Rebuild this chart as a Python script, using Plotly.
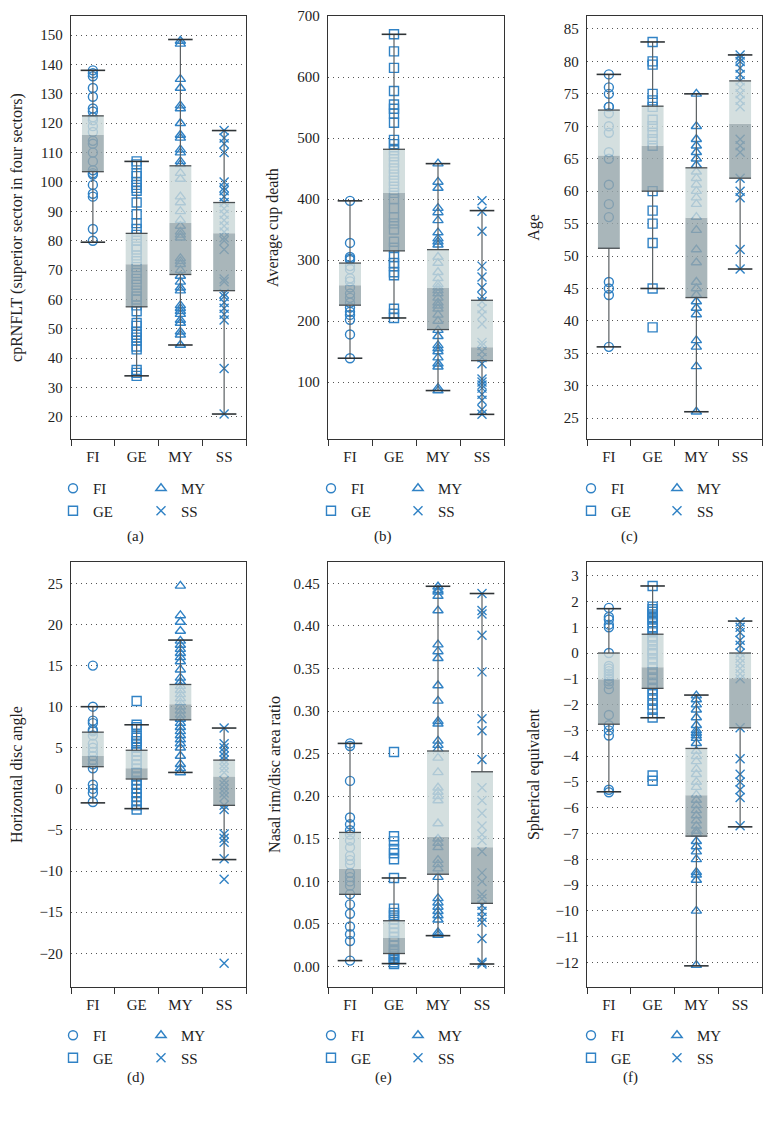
import plotly.graph_objects as go

W, H = 773, 1122
OFF = 8                     # default page margin of the html body
FW, FH = W - 2 * OFF, H - 2 * OFF
GROUPS = ["FI", "GE", "MY", "SS"]
SYMBOLS = ["circle-open", "square-open", "triangle-up-open", "x-thin-open"]
BLUE = "rgb(48,130,197)"

# ---------------- (a) cpRNFLT ----------------
A_FI = [138, 137, 136, 132, 129, 125, 124, 122, 121, 119, 117, 114, 113, 110, 107, 104, 103, 102.5, 99, 96, 95, 84, 80]
A_GE = [107, 106, 103, 102, 100, 99, 98, 97, 93, 89, 86, 84, 82, 80, 78, 77, 75, 73, 71, 69, 67, 65, 63, 61, 60, 58,
        56, 52, 51, 49, 48, 47, 46, 44, 43, 36, 35, 34]
A_MY = [148, 147, 135, 132, 126, 125, 120, 116, 115, 111, 110, 107, 106, 103, 101, 95, 93, 90, 87, 85, 83, 82, 81, 74,
        73, 72, 70, 68, 66, 64, 63, 58, 57, 56, 55, 53, 52, 49, 48, 44.5]
A_SS = [117.5, 115, 113, 110, 100, 98, 97, 95, 93, 91, 89, 87, 85, 83, 81, 80, 77, 67, 66, 62, 61, 59, 57, 55, 53, 36.5, 21]
A_LOW = [79.5, 34, 44.5, 21]
A_Q1 = [103.5, 57.5, 68.5, 63]
A_MED = [116, 72, 86, 82.5]
A_Q3 = [122.5, 82.5, 105.5, 93]
A_HIGH = [138, 107, 148.5, 117.5]

# ---------------- (b) Average cup death ----------------
B_FI = [397, 328, 305, 302, 300, 290, 285, 270, 265, 255, 245, 238, 230, 222, 215, 210, 202, 178, 139]
B_GE = [670, 642, 615, 577, 555, 548, 540, 525, 497, 490, 480, 470, 460, 450, 440, 430, 420, 410, 400, 385, 370, 360,
        350, 330, 320, 305, 295, 290, 280, 275, 220, 212, 205]
B_MY = [458, 428, 418, 385, 378, 365, 345, 335, 330, 325, 305, 295, 280, 270, 260, 255, 250, 245, 238, 230, 225, 220,
        210, 200, 185, 175, 160, 155, 150, 140, 130, 125, 90, 86]
B_SS = [397, 380, 347, 290, 272, 255, 240, 232, 220, 210, 195, 165, 160, 150, 140, 130, 105, 100, 95, 90, 80, 70, 55, 47]
B_LOW = [139, 205, 86, 47]
B_Q1 = [226, 315, 186, 135]
B_MED = [258.5, 410, 254, 157]
B_Q3 = [295, 481.5, 317, 234]
B_HIGH = [397, 670, 458, 381]

# ---------------- (c) Age ----------------
C_FI = [78, 76, 75, 73, 73, 72, 70, 69, 66, 65, 61, 58, 56, 46, 45, 44, 36]
C_GE = [83, 80, 79.5, 75, 74, 73, 71, 70, 69, 68, 67, 60, 57, 55, 52, 45, 39]
C_MY = [75, 70, 68, 67, 66, 65, 64, 63, 62, 61, 60, 59, 58, 56, 54, 51, 49, 46, 45, 44, 43, 42, 41, 37, 36, 33, 26]
C_SS = [81, 80.5, 80, 79, 78, 77, 76, 75, 74, 73, 68, 67, 66, 62, 60, 59, 51, 48]
C_LOW = [36, 45, 26, 48]
C_Q1 = [51.2, 60, 43.6, 62]
C_MED = [65.5, 67, 55.9, 70.4]
C_Q3 = [72.5, 73.1, 63.6, 77]
C_HIGH = [78, 83, 75, 81]

# ---------------- (d) Horizontal disc angle ----------------
D_FI = [15, 10, 8.3, 8, 7.2, 7, 6.5, 5.5, 5, 4.5, 4, 3.5, 3, 2.5, 0.5, 0, -0.5, -1.6]
D_GE = [10.7, 7.8, 7.5, 6.5, 6.2, 5.8, 5.5, 5, 4.5, 4, 3.5, 3, 2.5, 2, 1.5, 1, 0.5, 0, -0.5, -1, -1.5, -2, -2.5]
D_MY = [24.7, 21.1, 20.3, 19.2, 18, 17.5, 17, 16.5, 16, 15.5, 14.5, 13.5, 13, 12.5, 12, 11.5, 11, 10.5, 10, 9.5, 9,
        8.5, 8, 7.5, 7, 6.5, 6, 5.5, 5, 4, 3, 2.5, 2]
D_SS = [7.4, 5.5, 5, 4.5, 4, 3.5, 3, 2.5, 2, 1, 0.5, 0, -0.5, -1, -2, -2.5, -5.5, -6, -6.5, -8.5, -11, -21.2]
D_LOW = [-1.7, -2.4, 2.0, -8.6]
D_Q1 = [2.7, 1.2, 8.4, -2.0]
D_MED = [4.0, 2.5, 10.3, 1.5]
D_Q3 = [6.9, 4.7, 12.7, 3.5]
D_HIGH = [10, 7.8, 18.1, 7.4]

# ---------------- (e) Nasal rim/disc area ratio ----------------
E_FI = [0.262, 0.259, 0.218, 0.175, 0.167, 0.16, 0.155, 0.148, 0.14, 0.13, 0.125, 0.12, 0.11, 0.105, 0.1, 0.095,
        0.085, 0.073, 0.062, 0.047, 0.038, 0.03, 0.007]
E_GE = [0.252, 0.153, 0.147, 0.138, 0.133, 0.126, 0.104, 0.068, 0.063, 0.06, 0.055, 0.05, 0.045, 0.04, 0.035, 0.03,
        0.025, 0.02, 0.018, 0.015, 0.012, 0.01, 0.008, 0.005, 0.003]
E_MY = [0.446, 0.442, 0.44, 0.435, 0.418, 0.378, 0.37, 0.362, 0.33, 0.312, 0.288, 0.285, 0.265, 0.26, 0.255, 0.245,
        0.228, 0.21, 0.205, 0.2, 0.195, 0.168, 0.15, 0.145, 0.14, 0.125, 0.12, 0.115, 0.105, 0.08, 0.075, 0.07, 0.065,
        0.06, 0.055, 0.04, 0.037]
E_SS = [0.438, 0.418, 0.414, 0.389, 0.346, 0.291, 0.277, 0.243, 0.21, 0.195, 0.18, 0.165, 0.155, 0.148, 0.135, 0.11,
        0.1, 0.085, 0.08, 0.072, 0.065, 0.058, 0.052, 0.033, 0.005, 0.003]
E_LOW = [0.007, 0.0035, 0.0363, 0.003]
E_Q1 = [0.0848, 0.0153, 0.1084, 0.0742]
E_MED = [0.1147, 0.0334, 0.1524, 0.14]
E_Q3 = [0.1575, 0.0538, 0.2531, 0.2287]
E_HIGH = [0.262, 0.104, 0.4465, 0.438]

# ---------------- (f) Spherical equivalent ----------------
F_FI = [1.75, 1.4, 1.3, 1.1, 1.0, 0, -0.5, -0.6, -0.7, -0.8, -0.9, -1.0, -1.1, -1.2, -1.4, -2.4, -2.8, -3.0, -3.2,
        -5.3, -5.4]
F_GE = [2.6, 1.8, 1.7, 1.6, 1.5, 1.4, 1.3, 1.2, 1.0, 0.8, 0.6, 0.5, 0.3, 0.1, 0, -0.2, -0.4, -0.6, -0.8, -1.0, -1.2,
        -1.4, -1.6, -1.8, -2.0, -2.2, -2.5, -4.75, -4.95]
F_MY = [-1.65, -1.8, -2.0, -2.2, -2.5, -2.8, -3.0, -3.1, -3.2, -3.3, -3.5, -3.8, -4.0, -4.2, -4.5, -4.7, -5.0, -5.2,
        -5.5, -5.7, -5.9, -6.1, -6.3, -6.5, -6.7, -6.9, -7.0, -7.3, -7.5, -7.7, -8.0, -8.5, -8.6, -8.8, -10.0, -12.1]
F_SS = [1.2, 1.0, 0.8, 0.5, 0.3, 0, -0.2, -0.4, -0.6, -0.8, -1.0, -2.9, -4.1, -4.7, -5.0, -5.3, -5.6, -6.7]
F_LOW = [-5.38, -2.51, -12.13, -6.74]
F_Q1 = [-2.76, -1.37, -7.1, -2.9]
F_MED = [-1.02, -0.55, -5.51, -0.98]
F_Q3 = [0.0, 0.73, -3.7, 0.0]
F_HIGH = [1.72, 2.6, -1.63, 1.24]

Y_TITLES = ["cpRNFLT (superior sector in four sectors)", "Average cup death", "Age",
            "Horizontal disc angle", "Nasal rim/disc area ratio", "Spherical equivalent"]
PANEL_LABELS = ["(a)", "(b)", "(c)", "(d)", "(e)", "(f)"]

PANELS = [
    dict(pts=[A_FI, A_GE, A_MY, A_SS], stats=[A_LOW, A_Q1, A_MED, A_Q3, A_HIGH],
         yr=[12.5, 156.5], t0=20, dt=10, fmt=None),
    dict(pts=[B_FI, B_GE, B_MY, B_SS], stats=[B_LOW, B_Q1, B_MED, B_Q3, B_HIGH],
         yr=[6.6, 700], t0=100, dt=100, fmt=None),
    dict(pts=[C_FI, C_GE, C_MY, C_SS], stats=[C_LOW, C_Q1, C_MED, C_Q3, C_HIGH],
         yr=[21.8, 87], t0=25, dt=5, fmt=None),
    dict(pts=[D_FI, D_GE, D_MY, D_SS], stats=[D_LOW, D_Q1, D_MED, D_Q3, D_HIGH],
         yr=[-24.1, 27.6], t0=-20, dt=5, fmt=None),
    dict(pts=[E_FI, E_GE, E_MY, E_SS], stats=[E_LOW, E_Q1, E_MED, E_Q3, E_HIGH],
         yr=[-0.024, 0.475], t0=0, dt=0.05, fmt=".2f"),
    dict(pts=[F_FI, F_GE, F_MY, F_SS], stats=[F_LOW, F_Q1, F_MED, F_Q3, F_HIGH],
         yr=[-12.95, 3.53], t0=-12, dt=1, fmt=None),
]

# layout geometry (page pixels)
COL_X = [(71, 246), (328, 504), (587, 762)]
ROW_Y = [(16, 439), (562, 987)]
LABEL_X = [125, 383, 640]
LABEL_Y = [536, 1088]
LEG_X = [(74, 162), (332, 419), (592, 678)]
LEG_Y = [485, 1032]
TITLE_STANDOFF = [22, 14, 20, 16, 8, 11]

BW = 0.25   # half box width
CW = 0.28   # half cap width
FONT = "Liberation Serif"


def px(p):
    return (p - OFF) / FW


def py(p):
    return 1 - (p - OFF) / FH


fig = go.Figure()


def ax_name(k, kind):
    return kind if k == 0 else f"{kind}{k + 1}"


def leg_name(n):
    return "legend" if n == 1 else f"legend{n}"


for k, p in enumerate(PANELS):
    xa, ya = ax_name(k, "x"), ax_name(k, "y")
    low, q1, med, q3, high = p["stats"]
    # individual points
    for gi, g in enumerate(GROUPS):
        pts = p["pts"][gi]
        lg = leg_name(2 * k + 1 + (gi // 2))
        fig.add_trace(go.Scatter(
            x=[gi] * len(pts), y=pts, mode="markers", name=g,
            marker=dict(symbol=SYMBOLS[gi], size=9, color=BLUE, line=dict(width=1.4, color=BLUE)),
            xaxis=xa, yaxis=ya, legend=lg, legendgroup=f"{k}{g}", hoverinfo="y"))

    def rects(lo, hi):
        xs, ys = [], []
        for i in range(4):
            xs += [i - BW, i + BW, i + BW, i - BW, i - BW, None]
            ys += [lo[i], lo[i], hi[i], hi[i], lo[i], None]
        return xs, ys

    for lo, hi, col in [(q1, med, "rgba(150,166,171,0.82)"), (med, q3, "rgba(202,216,216,0.82)")]:
        xs, ys = rects(lo, hi)
        fig.add_trace(go.Scatter(x=xs, y=ys, mode="none", fill="toself", fillcolor=col,
                                 xaxis=xa, yaxis=ya, showlegend=False, hoverinfo="skip"))
    # whiskers
    wx, wy = [], []
    for i in range(4):
        wx += [i, i, None, i, i, None]
        wy += [low[i], q1[i], None, q3[i], high[i], None]
    fig.add_trace(go.Scatter(x=wx, y=wy, mode="lines", line=dict(color="#5a5f62", width=1.2),
                             xaxis=xa, yaxis=ya, showlegend=False, hoverinfo="skip"))
    # box edges (Q1, Q3)
    ex, ey = [], []
    for i in range(4):
        ex += [i - BW, i + BW, None, i - BW, i + BW, None]
        ey += [q1[i], q1[i], None, q3[i], q3[i], None]
    fig.add_trace(go.Scatter(x=ex, y=ey, mode="lines", line=dict(color="#4a4f52", width=1.3),
                             xaxis=xa, yaxis=ya, showlegend=False, hoverinfo="skip"))
    # caps
    cx, cy = [], []
    for i in range(4):
        cx += [i - CW, i + CW, None, i - CW, i + CW, None]
        cy += [low[i], low[i], None, high[i], high[i], None]
    fig.add_trace(go.Scatter(x=cx, y=cy, mode="lines", line=dict(color="#2f3437", width=1.6),
                             xaxis=xa, yaxis=ya, showlegend=False, hoverinfo="skip"))

    col, row = k % 3, k // 3
    x0, x1 = COL_X[col]
    y0, y1 = ROW_Y[row]
    fig.layout[ax_name(k, "xaxis")] = dict(
        domain=[px(x0), px(x1)], anchor=ya, range=[-0.5, 3.5], tickmode="array", tickvals=[0, 1, 2, 3],
        ticktext=GROUPS, ticks="outside", ticklen=4, tickcolor="rgba(0,0,0,0)",
        minor=dict(tickmode="linear", tick0=-0.5, dtick=1, ticks="outside", ticklen=6,
                   tickcolor="#333", tickwidth=1.2, showgrid=False),
        showgrid=False, zeroline=False, showline=True, linecolor="#333", linewidth=1.3,
        mirror=True, tickfont=dict(family=FONT, size=15, color="#222"), automargin=False)
    yax = dict(
        domain=[py(y1), py(y0)], anchor=xa, range=p["yr"], tickmode="linear", tick0=p["t0"], dtick=p["dt"],
        showgrid=True, gridcolor="#555", gridwidth=1, griddash="1px,4px", zeroline=False,
        showline=True, linecolor="#333", linewidth=1.3, mirror=True, ticks="",
        ticklabelstandoff=4,
        tickfont=dict(family=FONT, size=15, color="#222"), automargin=False,
        title=dict(text=Y_TITLES[k], font=dict(family=FONT, size=16, color="#222"),
                   standoff=TITLE_STANDOFF[k]))
    if p["fmt"]:
        yax["tickformat"] = p["fmt"]
    fig.layout[ax_name(k, "yaxis")] = yax

    # legends (two columns per panel)
    for c in range(2):
        n = 2 * k + 1 + c
        fig.layout[leg_name(n)] = dict(
            x=px(LEG_X[col][c] - 21), y=py(LEG_Y[row] - 13), xanchor="left", yanchor="top",
            orientation="v", bgcolor="rgba(0,0,0,0)", font=dict(family=FONT, size=15, color="#222"),
            itemwidth=30, tracegroupgap=2, traceorder="normal")

    fig.add_annotation(text=PANEL_LABELS[k], x=px(LABEL_X[col]), y=py(LABEL_Y[row]),
                       xref="paper", yref="paper", showarrow=False,
                       font=dict(family=FONT, size=15, color="#222"))

fig.update_layout(width=FW, height=FH, margin=dict(l=0, r=0, t=0, b=0),
                  paper_bgcolor="white", plot_bgcolor="white", showlegend=True)

fig.write_html("out.html")
